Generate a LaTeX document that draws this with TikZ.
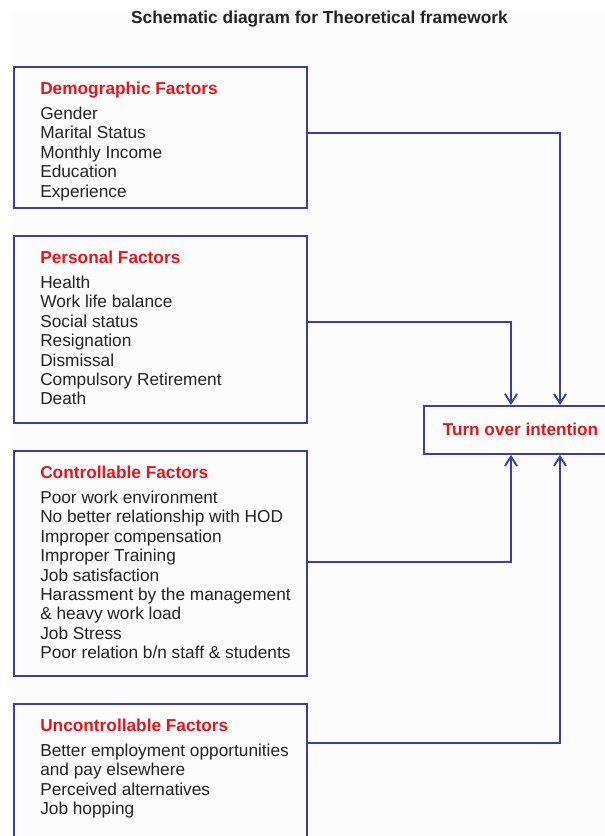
\documentclass[tikz,border=0pt]{standalone}
\usepackage{fontspec}
\setmainfont{Liberation Sans}
\usetikzlibrary{arrows.meta}
\definecolor{boxblue}{HTML}{3E3EA0}
\definecolor{hred}{HTML}{E8141C}
\definecolor{txt}{HTML}{232323}
\definecolor{bg}{HTML}{FCFCFC}
\tikzset{
  box/.style={draw=boxblue, line width=1.4pt, rectangle, inner sep=0pt, anchor=north west},
  body/.style={anchor=north west, inner sep=0pt, align=left, text=txt,
    font=\fontsize{12.95}{14.59}\selectfont},
  conn/.style={draw=boxblue, line width=1.4pt, -{Straight Barb[length=7pt,width=9pt,line width=1.4pt]}},
}
\newcommand{\hd}[1]{{\bfseries\color{hred}#1}\\[4.15pt]}
\begin{document}
\begin{tikzpicture}[x=0.75pt,y=-0.75pt]
\useasboundingbox (0,0) rectangle (605,836);
\fill[bg] (12,12) rectangle (605,836);
\node[anchor=center, inner sep=0pt, text=txt, font=\fontsize{13}{15}\selectfont\bfseries] (title) at (319.5,19.5) {Schematic diagram for Theoretical framework};

\node[box, minimum width=219.75pt, minimum height=105.75pt] (demo) at (13,66) {};
\node[body] (demotext) at (40,81.5) {\hd{Demographic Factors}Gender\\Marital Status\\Monthly Income\\Education\\Experience};

\node[box, minimum width=219.75pt, minimum height=140.25pt] (pers) at (13,235) {};
\node[body] (perstext) at (40,250.5) {\hd{Personal Factors}Health\\Work life balance\\Social status\\Resignation\\Dismissal\\Compulsory Retirement\\Death};

\node[box, minimum width=219.75pt, minimum height=168.75pt] (ctrl) at (13,450) {};
\node[body] (ctrltext) at (40,465.5) {\hd{Controllable Factors}Poor work environment\\No better relationship with HOD\\Improper compensation\\Improper Training\\Job satisfaction\\Harassment by the management\\\& heavy work load\\Job Stress\\Poor relation b/n staff \& students};

\node[box, minimum width=219.75pt, minimum height=110pt] (unctrl) at (13,703) {};
\node[body] (unctrltext) at (40,718.5) {\hd{Uncontrollable Factors}Better employment opportunities\\and pay elsewhere\\Perceived alternatives\\Job hopping};

\node[box, minimum width=140pt, minimum height=36pt] (turn) at (423,405) {};
\node[inner sep=0pt, text=hred, font=\fontsize{12.9}{14}\selectfont\bfseries] (turntext) at (520.5,429) {Turn over intention};

\draw[conn] (demo.east |- 0,133) -| (turn.north -| 560,0);
\draw[conn] (pers.east |- 0,322) -| (turn.north -| 511,0);
\draw[conn] (ctrl.east |- 0,562) -| (turn.south -| 511,0);
\draw[conn] (unctrl.east |- 0,743) -| (turn.south -| 560,0);
\end{tikzpicture}
\end{document}
